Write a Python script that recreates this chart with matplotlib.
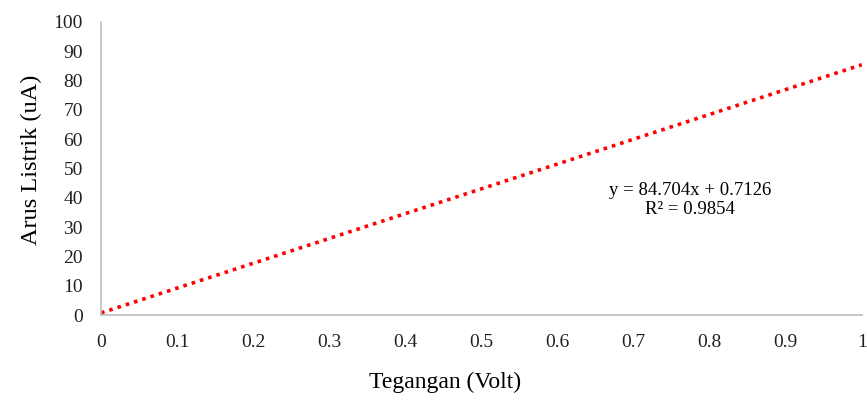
import matplotlib.pyplot as plt

plt.rcParams['font.family'] = ['Liberation Serif', 'DejaVu Serif']

# linear trendline
slope = 84.704
intercept = 0.7126
r_squared = 0.9854
x_ends = [0, 1]
y_ends = [slope * x + intercept for x in x_ends]

x_ticks = [0, 0.1, 0.2, 0.3, 0.4, 0.5, 0.6, 0.7, 0.8, 0.9, 1]
x_tick_labels = ['0', '0.1', '0.2', '0.3', '0.4', '0.5', '0.6', '0.7', '0.8', '0.9', '1']
y_ticks = [0, 10, 20, 30, 40, 50, 60, 70, 80, 90, 100]

fig = plt.figure(figsize=(8.67, 4), dpi=100)
ax = fig.add_axes([0.1165, 0.2125, 0.8775, 0.7325])

ax.plot(x_ends, y_ends, color='#ff0000', linestyle=(0, (1, 1.4)), linewidth=2.6)

ax.set_xlim(0, 1)
ax.set_ylim(0, 100)
ax.set_xticks(x_ticks)
ax.set_xticklabels(x_tick_labels)
ax.set_yticks(y_ticks)
ax.tick_params(length=0, labelsize=14, colors='#222222')
ax.tick_params(axis='x', pad=14)
ax.tick_params(axis='y', pad=13)

for side in ['top', 'right']:
    ax.spines[side].set_visible(False)
for side in ['left', 'bottom']:
    ax.spines[side].set_color('#bfbfbf')
    ax.spines[side].set_linewidth(1.2)

ax.set_xlabel('Tegangan (Volt)', fontsize=17)
ax.xaxis.set_label_coords(0.452, -0.195)
ax.set_ylabel('Arus Listrik (uA)', fontsize=17.5)
ax.yaxis.set_label_coords(-0.078, 0.53)

ax.text(0.774, 39.2, f'y = {slope}x + {intercept}\nR² = {r_squared}',
        ha='center', va='center', fontsize=13.5, linespacing=1.15)

fig.savefig('out.png', dpi=100)
